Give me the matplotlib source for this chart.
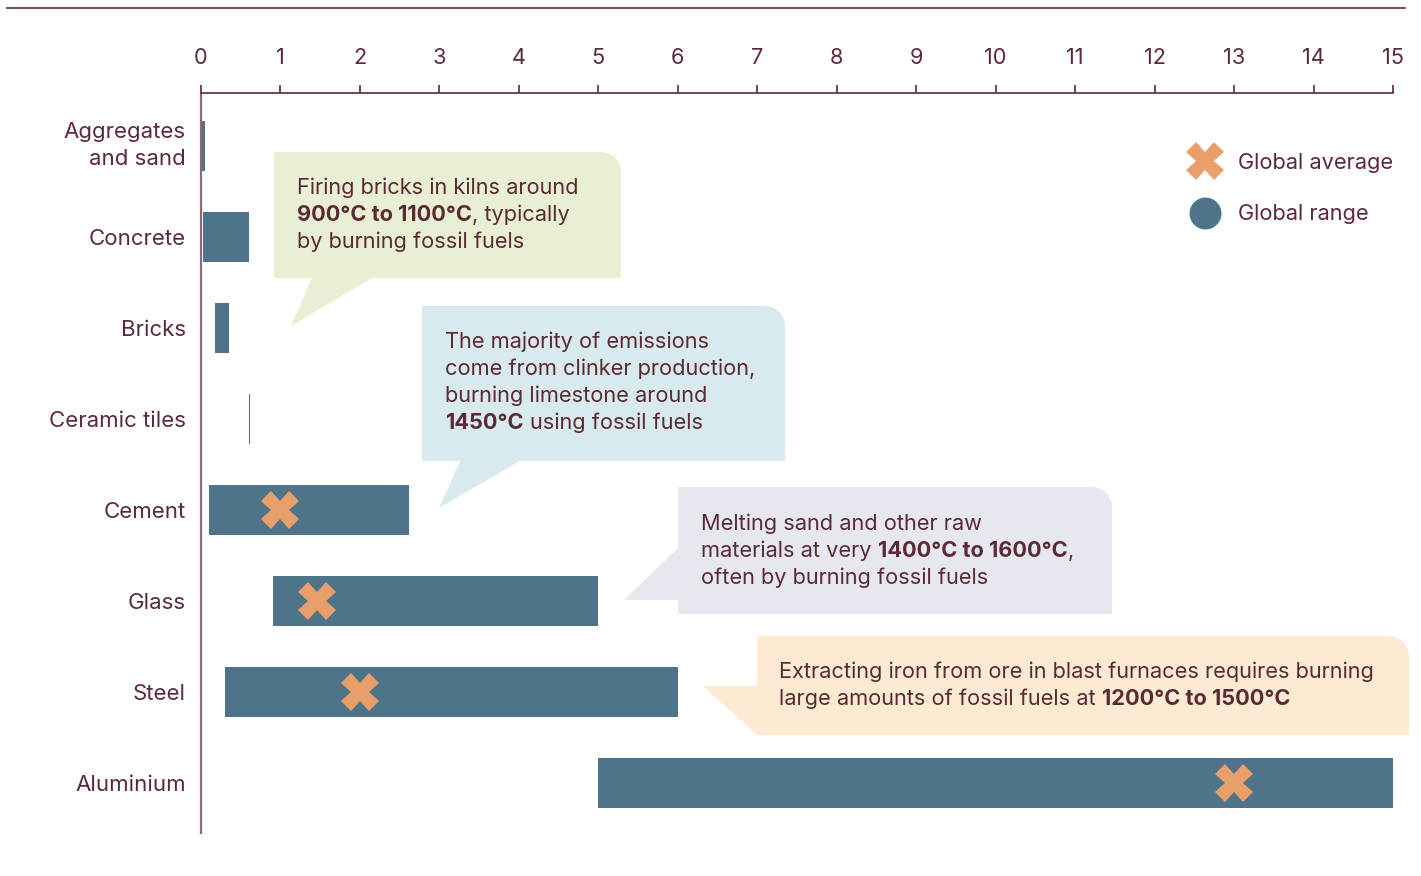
import numpy as np
import matplotlib
matplotlib.use("Agg")
import matplotlib.pyplot as plt
from matplotlib.patches import Polygon
from matplotlib.lines import Line2D

plt.rcParams['font.family'] = ['Inter', 'DejaVu Sans']

# data
categories = ["Aggregates\nand sand", "Concrete", "Bricks", "Ceramic tiles",
              "Cement", "Glass", "Steel", "Aluminium"]
range_low = [0.0, 0.02, 0.18, 0.60, 0.10, 0.90, 0.30, 5.0]
range_high = [0.05, 0.60, 0.35, 0.62, 2.62, 5.0, 6.0, 15.0]
global_avg = [np.nan, np.nan, np.nan, np.nan, 1.0, 1.46, 2.0, 13.0]
xticks = list(range(0, 16))

TXT = "#5c2a35"
BAR = "#4f7489"
AVG = "#e89f6a"

W, H = 1421, 876
fig = plt.figure(figsize=(W / 100, H / 100), dpi=100)
ax = fig.add_axes([201 / W, 1 - 833 / H, (1393 - 201) / W, (833 - 93) / H])
ax.set_facecolor("none")

y = np.arange(len(categories))
widths = np.array(range_high) - np.array(range_low)
ax.barh(y, widths, left=range_low, height=0.55, color=BAR, zorder=2)
ax.plot(global_avg, y, linestyle="none", marker="X", markersize=27,
        color=AVG, markeredgewidth=0, zorder=3)

ax.set_xlim(0, 15)
ax.set_ylim(7.55, -0.58)
ax.xaxis.tick_top()
ax.set_xticks(xticks)
ax.tick_params(axis="x", colors=TXT, labelcolor=TXT, labelsize=15.7,
               length=6, width=1.2, pad=12)
ax.set_yticks(y)
ax.set_yticklabels(categories, linespacing=1.45)
ax.tick_params(axis="y", length=0, pad=11, labelsize=16, labelcolor=TXT)
ax.get_yticklabels()[0].set_va("center")
for s in ["right", "bottom"]:
    ax.spines[s].set_visible(False)
ax.spines["top"].set_color(TXT)
ax.spines["top"].set_linewidth(1.2)
ax.spines["left"].set_color("#8d6a74")
ax.spines["left"].set_linewidth(1.6)

# top rule
fig.add_artist(Line2D([7 / W, 1405 / W], [1 - 8 / H, 1 - 8 / H],
                      color=TXT, linewidth=1.2))


def px(x, yy):
    return (x / W, 1 - yy / H)


def rounded_tr(x0, y0, x1, y1, r=20):
    # top-left, rounded top-right
    pts = [(x0, y0), (x1 - r, y0)]
    for a in np.linspace(90, 0, 10):
        pts.append((x1 - r + r * np.cos(np.radians(a)),
                    y0 + r - r * np.sin(np.radians(a))))
    return pts


def callout(pts, color):
    poly = Polygon([px(*p) for p in pts], closed=True, facecolor=color,
                   edgecolor="none", transform=fig.transFigure, zorder=-1)
    fig.add_artist(poly)


callout(rounded_tr(274, 152, 621, 278) +
        [(621, 278), (372, 278), (291, 326), (312, 278), (274, 278)], "#e8efd2")
callout(rounded_tr(422, 306, 785, 461) +
        [(785, 461), (520, 461), (439, 508), (460, 461), (422, 461)], "#d8eaee")
callout(rounded_tr(678, 487, 1112, 614) +
        [(1112, 614), (678, 614), (678, 600), (624, 600), (678, 548)], "#e7e7f0")
callout(rounded_tr(757, 636, 1409, 735) +
        [(1409, 735), (757, 735), (703, 686), (757, 686)], "#fcebd2")

renderer = fig.canvas.get_renderer()
FS = 15.7


def text_w(s, bold):
    t = fig.text(0, 0, s, fontsize=FS, weight="bold" if bold else "normal")
    w = t.get_window_extent(renderer).width
    t.remove()
    return w


space_w = text_w("a a", False) - text_w("aa", False)


def rich_line(x, yy, parts):
    for s, bold, sp in parts:
        fig.text(x / W, 1 - yy / H, s, fontsize=FS, color=TXT,
                 weight="bold" if bold else "normal", va="center", ha="left")
        x += text_w(s, bold) + (space_w if sp else 0)


notes = [
    (297, [188, 215, 242], [
        [("Firing bricks in kilns around", False, False)],
        [("900°C to 1100°C", True, False), (", typically", False, False)],
        [("by burning fossil fuels", False, False)]]),
    (445, [342, 369, 396, 423], [
        [("The majority of emissions", False, False)],
        [("come from clinker production,", False, False)],
        [("burning limestone around", False, False)],
        [("1450°C", True, True), ("using fossil fuels", False, False)]]),
    (701, [524, 551, 578], [
        [("Melting sand and other raw", False, False)],
        [("materials at very", False, True), ("1400°C to 1600°C", True, False),
         (",", False, False)],
        [("often by burning fossil fuels", False, False)]]),
    (779, [672, 699], [
        [("Extracting iron from ore in blast furnaces requires burning", False, False)],
        [("large amounts of fossil fuels at", False, True),
         ("1200°C to 1500°C", True, False)]]),
]
for x0, ys, lines in notes:
    for yy, parts in zip(ys, lines):
        rich_line(x0, yy, parts)

# legend
fig.add_artist(Line2D([1205 / W], [1 - 161 / H], marker="X", markersize=27,
                      color=AVG, markeredgewidth=0, linestyle="none"))
fig.add_artist(Line2D([1205 / W], [1 - 213 / H], marker="o", markersize=23,
                      color=BAR, markeredgewidth=0, linestyle="none"))
fig.text(1238 / W, 1 - 163 / H, "Global average", fontsize=FS, color=TXT, va="center")
fig.text(1238 / W, 1 - 214 / H, "Global range", fontsize=FS, color=TXT, va="center")

fig.savefig("out.png", dpi=100)
